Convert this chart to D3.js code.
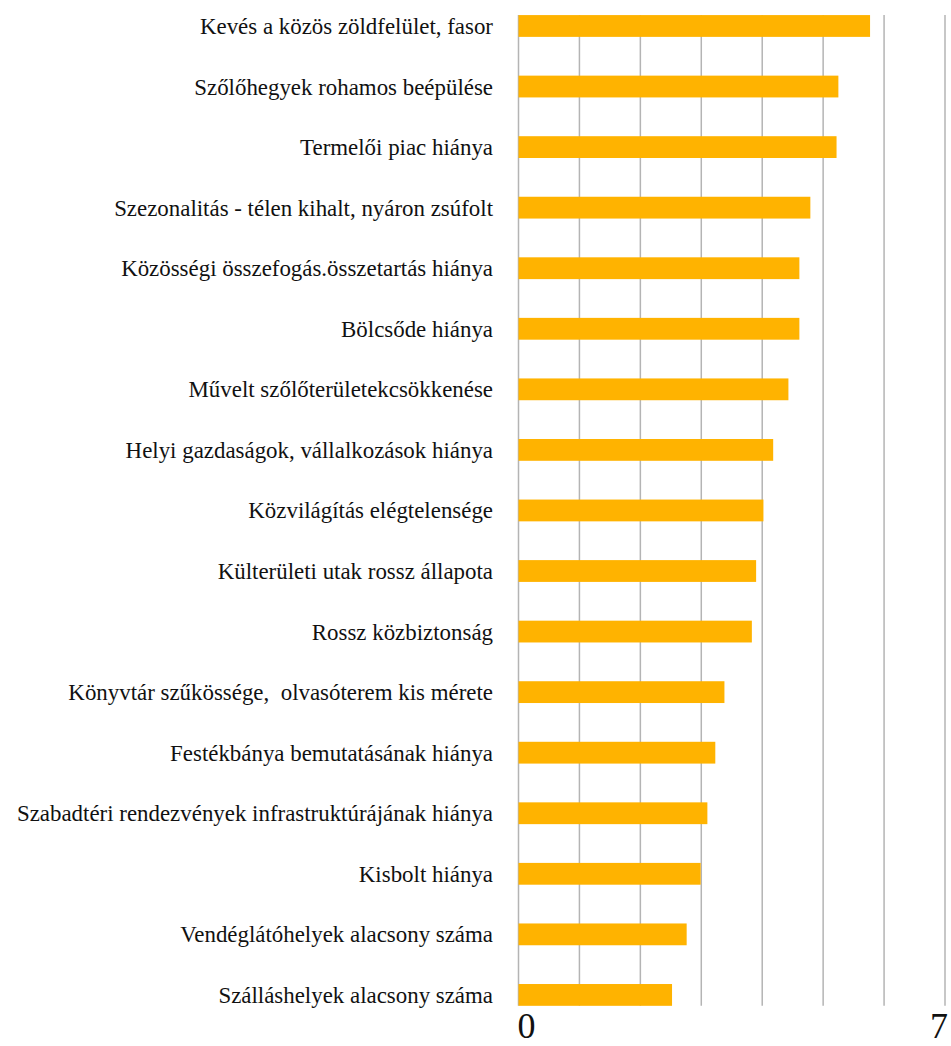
<!DOCTYPE html>
<html>
<head>
<meta charset="utf-8">
<script src="https://cdn.jsdelivr.net/npm/d3@7"></script>
<style>
  body { margin: 0; background: #fff; }
  svg { display: block; }
</style>
</head>
<body>
<script>
var w = 951;
var h = 1046;

var categories = [
    "Kevés a közös zöldfelület, fasor",
    "Szőlőhegyek rohamos beépülése",
    "Termelői piac hiánya",
    "Szezonalitás - télen kihalt, nyáron zsúfolt",
    "Közösségi összefogás.összetartás hiánya",
    "Bölcsőde hiánya",
    "Művelt szőlőterületekcsökkenése",
    "Helyi gazdaságok, vállalkozások hiánya",
    "Közvilágítás elégtelensége",
    "Külterületi utak rossz állapota",
    "Rossz közbiztonság",
    "Könyvtár szűkössége,  olvasóterem kis mérete",
    "Festékbánya bemutatásának hiánya",
    "Szabadtéri rendezvények infrastruktúrájának hiánya",
    "Kisbolt hiánya",
    "Vendéglátóhelyek alacsony száma",
    "Szálláshelyek alacsony száma"
];

var values = [5.77, 5.25, 5.22, 4.79, 4.61, 4.61, 4.43, 4.18, 4.02, 3.90, 3.83, 3.38, 3.23, 3.10, 2.99, 2.76, 2.52];

var gridTicks = [0, 1, 2, 3, 4, 5, 6, 7];
var tickLabels = [0, 7];

var xScale = d3.scaleLinear()
    .domain([0, 7])
    .range([518.5, 945]);

var yScale = d3.scaleBand()
    .domain(categories)
    .range([-4.3, 1025.2])
    .paddingInner(0.64)
    .paddingOuter(0.32);

var svg = d3.select("body")
    .append("svg")
    .attr("width", w)
    .attr("height", h);

var gridTop = yScale(categories[0]);
var gridBottom = yScale(categories[categories.length - 1]) + yScale.bandwidth();

// grid lines
svg.selectAll("line.grid")
    .data(gridTicks)
    .enter()
    .append("line")
    .attr("class", "grid")
    .attr("x1", function(d){ return xScale(d); })
    .attr("x2", function(d){ return xScale(d); })
    .attr("y1", gridTop)
    .attr("y2", gridBottom)
    .attr("stroke", "#b4b4b4")
    .attr("stroke-width", 1.5);

// bars
svg.selectAll("rect")
    .data(values)
    .enter()
    .append("rect")
    .attr("x", xScale(0))
    .attr("y", function(d, i){ return yScale(categories[i]); })
    .attr("width", function(d){ return xScale(d) - xScale(0); })
    .attr("height", yScale.bandwidth())
    .attr("fill", "#ffb300");

// category labels
svg.selectAll("text.cat")
    .data(categories)
    .enter()
    .append("text")
    .attr("class", "cat")
    .attr("x", 493)
    .attr("y", function(d){ return yScale(d) + yScale.bandwidth() / 2; })
    .attr("dy", "0.35em")
    .attr("text-anchor", "end")
    .style("font-family", "'Liberation Serif'")
    .style("font-size", "22.9px")
    .style("fill", "#111")
    .style("white-space", "pre")
    .text(function(d){ return d; });

// axis tick labels
svg.selectAll("text.tick")
    .data(tickLabels)
    .enter()
    .append("text")
    .attr("class", "tick")
    .attr("x", function(d, i){ return i == 0 ? xScale(d) - 1 : xScale(d) + 3; })
    .attr("y", 1038)
    .attr("text-anchor", function(d, i){ return i == 0 ? "start" : "end"; })
    .style("font-family", "'Liberation Serif'")
    .style("font-size", "36px")
    .style("fill", "#111")
    .text(function(d){ return d; });
</script>
</body>
</html>
